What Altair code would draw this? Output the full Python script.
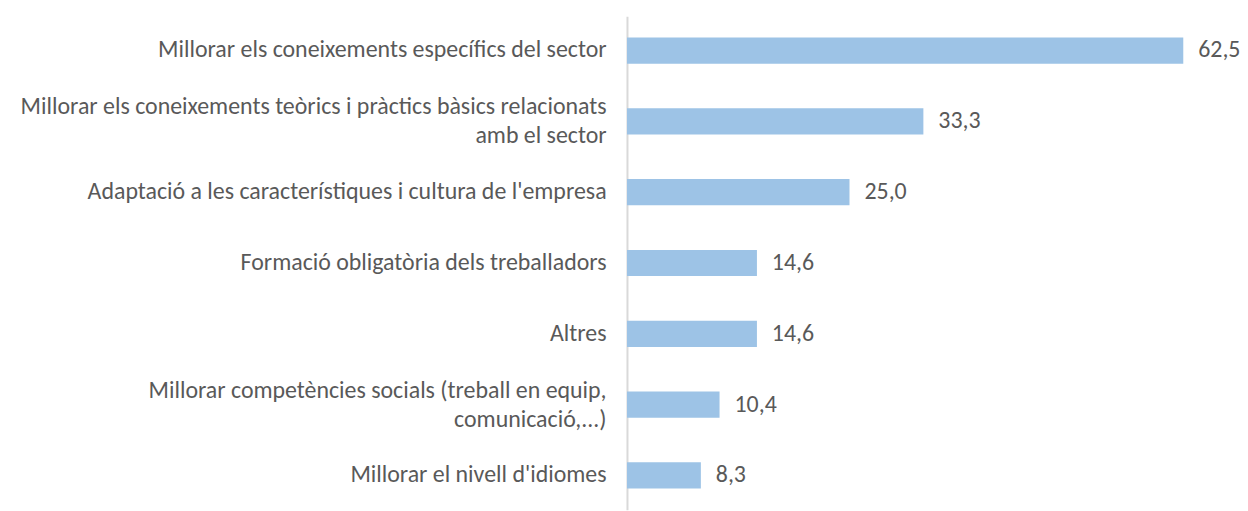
import altair as alt
import pandas as pd

categories = [
    "Millorar els coneixements específics del sector",
    "Millorar els coneixements teòrics i pràctics bàsics relacionats|amb el sector",
    "Adaptació a les característiques i cultura de l'empresa",
    "Formació obligatòria dels treballadors",
    "Altres",
    "Millorar competències socials (treball en equip,|comunicació,...)",
    "Millorar el nivell d'idiomes",
]
values = [62.5, 33.3, 25.0, 14.6, 14.6, 10.4, 8.3]

df = pd.DataFrame({"cat": categories, "val": values})

FONT = "Carlito, Lato, sans-serif"
TXT = "#595959"

y = alt.Y(
    "cat:N",
    sort=categories,
    scale=alt.Scale(paddingInner=0.63, paddingOuter=0.3),
    axis=alt.Axis(
        title=None,
        ticks=False,
        labelFont=FONT,
        labelFontSize=24,
        labelColor=TXT,
        labelPadding=21,
        labelLimit=1000,
        labelLineHeight=29,
        labelExpr="split(datum.label, '|')",
        labelOffset=alt.ExprRef("indexof(datum.value, '|') >= 0 ? -14 : 0"),
        domainColor="#D9D9D9",
        domainWidth=2,
        grid=False,
    ),
)
x = alt.X("val:Q", scale=alt.Scale(domain=[0, 62.5], nice=False), axis=None)

bars = alt.Chart(df).mark_bar(color="#9DC3E6").encode(x=x, y=y)
labels = (
    alt.Chart(df)
    .transform_calculate(lbl="replace(format(datum.val, '.1f'), '.', ',')")
    .mark_text(align="left", baseline="middle", dx=15, font=FONT, fontSize=24, color=TXT)
    .encode(x=x, y=y, text="lbl:N")
)

chart = (
    alt.layer(bars, labels)
    .properties(
        width=559,
        height=496,
        autosize=alt.AutoSizeParams(type="none"),
        padding={"left": 622, "top": 7, "right": 57, "bottom": 0},
    )
    .configure_view(stroke=None)
)
chart.save("out.html", embed_options={"renderer": "svg", "actions": False})
